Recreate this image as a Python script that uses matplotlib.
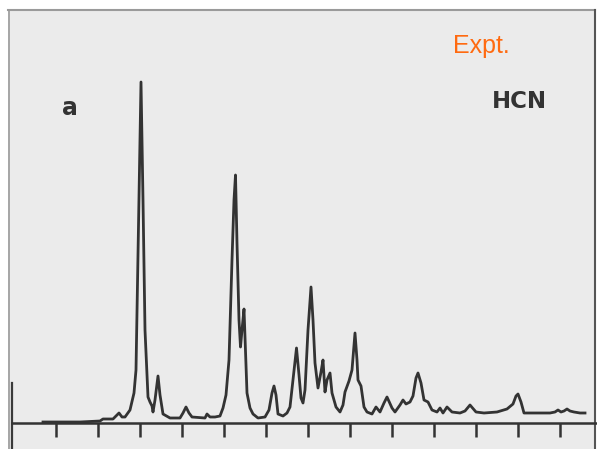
import matplotlib.pyplot as plt
from matplotlib.patches import Rectangle

# Digitised HCN experimental spectrum (arbitrary units)
# energy position along the axis, and intensity above the baseline
energy = [43, 60, 80, 100, 103, 113, 116, 119, 122, 125, 130, 134, 136, 139, 141,
          143, 145, 148, 150, 152, 153, 155, 158, 160, 163, 170, 180, 183, 186, 189,
          192, 205, 207, 210, 215, 220, 223, 226, 229, 232, 234, 235.5, 237, 239, 240.5,
          242, 244, 245.5, 247, 250, 253, 258, 265, 269, 272, 274, 276, 278, 283,
          287, 290, 293, 296.5, 299, 301, 303, 305, 308, 311, 313, 315, 318, 321,
          323, 325, 327, 330, 332, 336, 340, 343, 345, 349, 352, 355, 357, 358, 361,
          364, 367, 372, 376, 380, 384, 387, 392, 395, 400, 403, 406, 410, 413, 416,
          418, 421, 424, 428, 432, 437, 440, 443, 447, 452, 460, 465, 470, 476, 484,
          497, 507, 513, 516, 518, 521, 524, 530, 540, 550, 555, 558, 561, 564, 567,
          570, 574, 580, 585]
intensity = [1, 1, 1, 2, 4, 4, 7, 10, 6, 6, 13, 30, 53, 223, 341,
             223, 93, 26, 21, 17, 11, 23, 47, 28, 9, 5, 5, 10, 16, 10,
             6, 5, 9, 6, 6, 7, 15, 28, 63, 163, 223, 248, 180, 103, 76,
             93, 114, 73, 30, 15, 9, 5, 6, 13, 30, 37, 28, 9, 7,
             10, 16, 43, 75, 48, 25, 20, 33, 93, 136, 103, 60, 35, 51,
             63, 31, 43, 50, 30, 16, 11, 18, 31, 42, 53, 90, 63, 43, 37,
             16, 11, 9, 16, 11, 20, 26, 15, 11, 18, 23, 19, 21, 27, 45,
             50, 40, 23, 21, 13, 11, 15, 10, 16, 11, 10, 12, 18, 11, 10,
             11, 14, 19, 27, 29, 21, 10, 10, 10, 10, 11, 13, 11, 12, 14,
             12, 11, 10, 10]

tick_positions = [56 + 42 * k for k in range(13)]

fig = plt.figure(figsize=(5.97, 4.49), dpi=100)
fig.patch.set_facecolor('white')
ax = fig.add_axes([0, 0, 1, 1])
ax.set_xlim(0, 597)
ax.set_ylim(-26, 423)
ax.axis('off')

# scanned paper area
ax.add_patch(Rectangle((8, -26), 587, 439, facecolor='#ebebeb', edgecolor='none', zorder=0))
ax.plot([8, 595], [413, 413], color='#9a9a9a', lw=1.5, zorder=1)
ax.plot([595, 595], [-26, 413], color='#555555', lw=1.5, zorder=1)
ax.plot([9, 9], [-26, 413], color='#9a9a9a', lw=1.2, zorder=1)
ax.plot([12, 12], [-26, 40], color='#3a3a3a', lw=1.6, zorder=1)

# baseline axis with ticks
ax.plot([12, 597], [0, 0], color='#333333', lw=1.8, zorder=2)
ax.vlines(tick_positions, -14, 0, color='#333333', lw=1.8, zorder=2)

# spectrum trace
ax.plot(energy, intensity, color='#333333', lw=2.0, solid_joinstyle='round', zorder=3)

ax.text(70, 315, 'a', fontsize=17, fontweight='bold', color='#333333',
        ha='center', va='center')
ax.text(519, 322, 'HCN', fontsize=16.5, fontweight='bold', color='#333333',
        ha='center', va='center')
ax.text(481, 377, 'Expt.', fontsize=18, color='#ff6a10', family='Liberation Sans',
        ha='center', va='center')

plt.savefig('out.png', dpi=100)
